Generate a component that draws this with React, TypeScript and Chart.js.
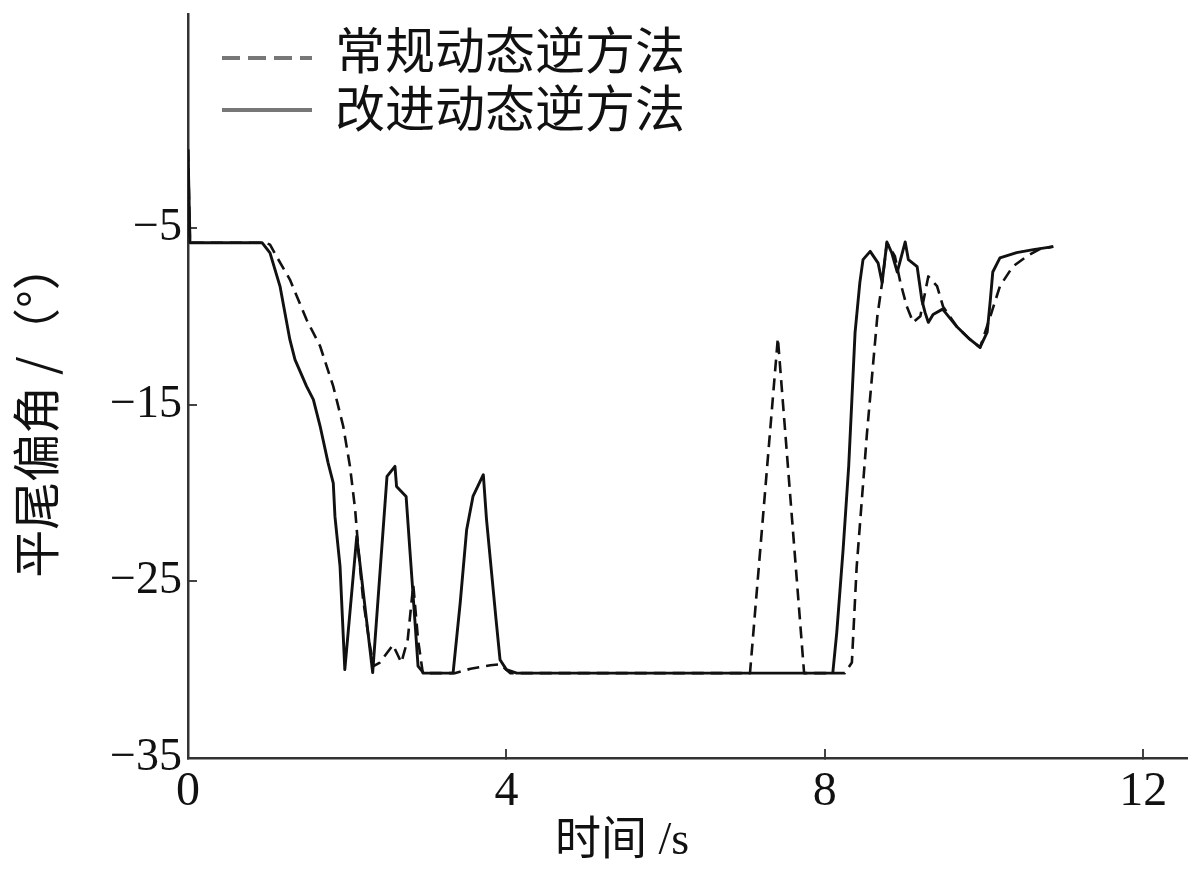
import React, { useEffect, useRef } from "react";
import { Chart, registerables } from "chart.js";

Chart.register(...registerables);

// ---- data ----
const seriesNames = ["常规动态逆方法", "改进动态逆方法"];
const xTitle = "时间 /s";
const yTitle = "平尾偏角 /（°）";
const xTicks = [0, 4, 8, 12];
const yTicks = [-35, -25, -15, -5];

const convTime = [
  0, 0.025, 0.97, 1.03, 1.11, 1.28, 1.49, 1.66, 1.825, 1.95, 2.035, 2.1, 2.14, 2.2, 2.28, 2.33,
  2.41, 2.575, 2.68, 2.76, 2.83, 2.89, 2.95, 3.35, 3.55, 3.8, 3.92, 4.05, 7.06, 7.41, 7.74, 8.25,
  8.34, 8.4, 8.53, 8.66, 8.72, 8.78, 8.88, 8.95, 9.03, 9.11, 9.2, 9.3, 9.41, 9.485, 9.66, 9.82,
  9.95, 10.08, 10.2, 10.36, 10.54, 10.7, 10.87,
];
const convAngle = [
  -0.57, -5.84, -5.84, -5.95, -6.6, -7.93, -10.2, -11.7, -13.97, -16.23, -18.5, -20.95, -23.2,
  -26.04, -28.5, -29.8, -29.6, -28.6, -29.6, -28.3, -25.2, -28.3, -30.2, -30.2, -29.95, -29.75,
  -29.7, -30.2, -30.2, -11.23, -30.2, -30.2, -29.6, -24.2, -16.6, -10.0, -8.1, -5.85, -6.6, -8.1,
  -9.45, -10.35, -10.0, -7.75, -8.3, -9.45, -10.6, -11.3, -11.77, -10.0, -8.3, -7.2, -6.6, -6.2,
  -6.06,
];

const impTime = [
  0, 0.025, 0.93, 1.03, 1.156, 1.28, 1.344, 1.49, 1.575, 1.66, 1.76, 1.825, 1.846, 1.91, 1.97,
  2.12, 2.32, 2.5, 2.6, 2.62, 2.74, 2.79, 2.85, 2.89, 2.96, 3.33, 3.42, 3.5, 3.58, 3.71, 3.75,
  3.81, 3.87, 3.92, 4.0, 4.13, 8.1, 8.15, 8.23, 8.3, 8.34, 8.38, 8.44, 8.48, 8.57, 8.67, 8.72,
  8.78, 8.84, 8.91, 9.01, 9.05, 9.16, 9.22, 9.26, 9.3, 9.36, 9.48, 9.66, 9.82, 9.95, 10.04, 10.08,
  10.11, 10.2, 10.41, 10.62, 10.87,
];
const impAngle = [
  -0.57, -5.84, -5.84, -6.42, -8.31, -11.33, -12.46, -13.97, -14.72, -16.23, -18.3, -19.44,
  -21.33, -24.16, -30.0, -22.46, -30.17, -19.06, -18.5, -19.63, -20.2, -23.4, -27.2, -29.8, -30.2,
  -30.2, -26.2, -22.1, -20.2, -18.97, -21.5, -24.34, -27.17, -29.44, -30.0, -30.2, -30.2, -27.9,
  -23.2, -18.5, -14.72, -10.93, -8.1, -6.8, -6.33, -7.0, -8.1, -5.8, -6.4, -7.5, -5.8, -6.8, -7.2,
  -9.1, -9.8, -10.35, -9.9, -9.6, -10.6, -11.3, -11.77, -10.9, -9.05, -7.5, -6.7, -6.4, -6.23,
  -6.06,
];

const X_MIN = 0;
const X_MAX = 12.55;
const Y_MIN = -35;
const Y_MAX = 7.1;

const CJK = '"Noto Sans CJK SC", "Noto Sans CJK JP", sans-serif';
const SERIF = '"Liberation Serif", "DejaVu Serif", serif';
const MIXED = '"Liberation Serif", "Noto Sans CJK SC", serif';

const toPoints = (xs: number[], ys: number[]) => xs.map((x, i) => ({ x, y: ys[i] }));

const overlayPlugin = {
  id: "overlayText",
  afterDraw(chart: any) {
    const ctx: CanvasRenderingContext2D = chart.ctx;
    const ds = chart.data.datasets;
    ctx.save();
    // legend
    const rows = [
      { lineY: 58, textY: 50 },
      { lineY: 110, textY: 108 },
    ];
    rows.forEach((r, i) => {
      const d = ds[i];
      ctx.beginPath();
      ctx.strokeStyle = "#777";
      ctx.lineWidth = 4;
      ctx.setLineDash(d.borderDash && d.borderDash.length ? [18, 8] : []);
      ctx.moveTo(222, r.lineY);
      ctx.lineTo(312, r.lineY);
      ctx.stroke();
      ctx.setLineDash([]);
      ctx.fillStyle = "#111";
      ctx.font = `50px ${CJK}`;
      ctx.textAlign = "left";
      ctx.textBaseline = "middle";
      ctx.fillText(d.label, 335, r.textY);
    });
    // x title
    ctx.font = `46px ${MIXED}`;
    ctx.textAlign = "left";
    ctx.textBaseline = "middle";
    ctx.fillStyle = "#111";
    ctx.fillText(xTitle, 555, 842);
    // y title
    ctx.translate(36, 410);
    ctx.rotate(-Math.PI / 2);
    ctx.font = `48px ${CJK}`;
    ctx.textAlign = "center";
    ctx.textBaseline = "middle";
    ctx.fillText(yTitle, 0, 0);
    ctx.restore();
  },
};

export default function App() {
  const ref = useRef<HTMLCanvasElement | null>(null);

  useEffect(() => {
    if (!ref.current) return;
    const chart = new Chart(ref.current, {
      type: "line",
      data: {
        datasets: [
          {
            label: seriesNames[0],
            data: toPoints(convTime, convAngle),
            borderColor: "#111",
            borderWidth: 2.6,
            borderDash: [12, 7],
            pointRadius: 0,
            tension: 0,
            fill: false,
            order: 2,
          },
          {
            label: seriesNames[1],
            data: toPoints(impTime, impAngle),
            borderColor: "#111",
            borderWidth: 2.9,
            pointRadius: 0,
            tension: 0,
            fill: false,
            order: 1,
          },
        ],
      },
      options: {
        responsive: false,
        animation: false,
        devicePixelRatio: 1,
        layout: { padding: { top: 14, right: 13, left: 0, bottom: 0 } },
        plugins: { legend: { display: false }, tooltip: { enabled: false }, title: { display: false } },
        elements: { line: { borderCapStyle: "butt", borderJoinStyle: "round" } },
        scales: {
          x: {
            type: "linear",
            min: X_MIN,
            max: X_MAX,
            afterBuildTicks: (s: any) => {
              s.ticks = xTicks.map((v) => ({ value: v }));
            },
            afterFit: (s: any) => {
              s.height = 115;
              s.paddingLeft = 0;
              s.paddingRight = 0;
            },
            border: { display: true, color: "#333", width: 2.5 },
            grid: { display: true, drawOnChartArea: false, drawTicks: true, tickLength: -9, color: "#444", lineWidth: 2 },
            ticks: {
              color: "#111",
              padding: 15,
              maxRotation: 0,
              autoSkip: false,
              font: { family: SERIF, size: 48 },
              callback: (v: any) => String(v),
            },
          },
          y: {
            type: "linear",
            min: Y_MIN,
            max: Y_MAX,
            afterBuildTicks: (s: any) => {
              s.ticks = yTicks.map((v) => ({ value: v }));
            },
            afterFit: (s: any) => {
              s.width = 188;
              s.paddingTop = 0;
              s.paddingBottom = 0;
            },
            border: { display: true, color: "#333", width: 2.5 },
            grid: { display: true, drawOnChartArea: false, drawTicks: true, tickLength: -9, color: "#444", lineWidth: 2 },
            ticks: {
              color: "#111",
              padding: 15,
              autoSkip: false,
              font: { family: SERIF, size: 46 },
              callback: (v: any) => (v < 0 ? "\u2212" + Math.abs(v) : String(v)),
            },
          },
        },
      },
      plugins: [overlayPlugin],
    });
    return () => chart.destroy();
  }, []);

  return (
    <div style={{ position: "absolute", left: 0, top: 0, width: 1200, height: 873, background: "#fff" }}>
      <canvas ref={ref} width={1200} height={873} style={{ display: "block", width: 1200, height: 873 }} />
    </div>
  );
}
